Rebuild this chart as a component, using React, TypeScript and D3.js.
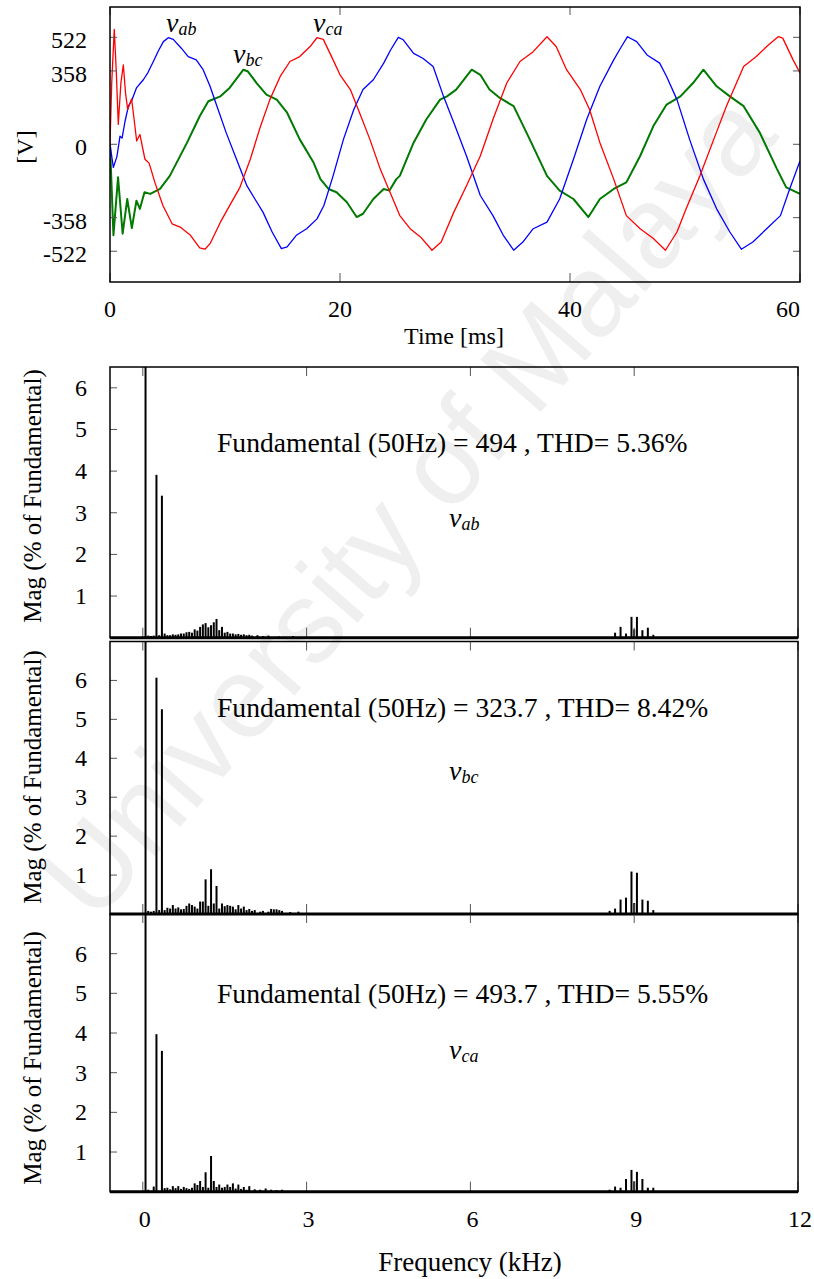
import React from 'react';
import * as d3 from 'd3';

// ---------- data ----------
const timeTicks = [0, 20, 40, 60];
const voltTicks = [522, 358, 0, -358, -522];
const freqTicks = [0, 3, 6, 9, 12];
const magTicks = [1, 2, 3, 4, 5, 6];

// [time ms, voltage V]
const vabWave: [number, number][] = [
  [0, 0], [0.29, -113], [0.6, -60], [0.87, 40], [1.05, 30], [1.3, 110], [1.6, 186], [1.88, 213], [2.3, 275],
  [2.9, 315], [3.3, 350], [3.77, 404], [4.2, 455], [4.64, 501], [5.07, 520], [5.5, 512], [6.2, 469], [6.8, 428],
  [7.5, 412], [8.1, 364], [8.7, 283], [9.3, 186], [10.1, 57], [11.0, -73], [11.9, -202], [12.6, -267], [13.3, -331],
  [14.1, -428], [14.9, -509], [15.4, -501], [16.2, -444], [17.1, -412], [18.0, -364], [18.6, -299], [19.4, -154],
  [20.3, 24], [21.2, 170], [22.0, 267], [22.9, 315], [23.8, 396], [24.4, 460], [25.07, 522], [25.5, 510],
  [26.4, 444], [27.2, 420], [28.1, 380], [29.0, 234], [29.9, 105], [31.0, -57], [32.2, -250], [33.3, -348],
  [34.2, -444], [35.1, -517], [35.9, -477], [36.8, -412], [38.0, -380], [39.1, -267], [40.3, -73], [41.45, 121],
  [42.6, 283], [43.8, 412], [44.4, 470], [45.0, 525], [45.8, 501], [46.7, 436], [47.8, 396], [48.4, 331],
  [49.3, 218], [50.4, 24], [51.6, -170], [52.75, -315], [53.9, -428], [54.9, -512], [55.9, -477], [57.1, -412],
  [58.3, -348], [59.1, -218], [60, -81],
];

const vbcWave: [number, number][] = [
  [0, 0], [0.3, -444], [0.7, -161], [1.1, -436], [1.5, -267], [1.9, -409], [2.3, -275], [2.6, -315], [3.0, -234],
  [3.5, -242], [4.35, -218], [5.2, -154], [6.7, 8], [7.8, 137], [8.55, 210], [9.6, 234], [10.4, 275], [11.6, 364],
  [12.0, 355], [12.75, 299], [13.6, 242], [14.5, 218], [15.4, 154], [16.5, 24], [17.7, -89], [18.3, -170],
  [19.0, -218], [19.7, -234], [20.6, -283], [21.45, -355], [22.0, -339], [22.9, -267], [23.8, -218], [24.3, -226],
  [24.9, -170], [25.2, -154], [26.4, 8], [27.5, 121], [28.7, 218], [29.3, 234], [30.1, 267], [31.45, 364],
  [32.2, 339], [33.0, 267], [33.9, 226], [35.1, 186], [36.5, 24], [38.0, -154], [39.1, -226], [40.3, -267],
  [41.6, -355], [42.6, -267], [43.8, -218], [44.9, -186], [46.1, -57], [47.25, 89], [48.4, 194], [49.6, 234],
  [50.7, 299], [51.6, 364], [52.75, 283], [53.9, 234], [55.1, 186], [56.5, 57], [58.0, -121], [58.8, -210],
  [60, -242],
];

const vcaWave: [number, number][] = [
  [0, 0], [0.15, 300], [0.37, 561], [0.55, 350], [0.72, 97], [0.95, 300], [1.16, 388], [1.35, 250], [1.54, 170],
  [1.88, 221], [2.1, 120], [2.32, 16], [2.6, 48], [3.04, -73], [3.4, -92], [3.9, -186], [4.6, -299], [5.4, -388],
  [6.1, -404], [7.0, -444], [7.8, -506], [8.26, -512], [8.7, -485], [9.6, -380], [10.4, -299], [11.3, -210],
  [12.2, -73], [13.0, 73], [13.9, 218], [14.8, 331], [15.65, 404], [16.5, 428], [17.4, 477], [18.0, 520],
  [18.55, 512], [19.4, 412], [20.0, 339], [20.9, 267], [21.7, 154], [22.6, 24], [23.5, -121], [24.35, -234],
  [25.2, -348], [26.1, -412], [27.0, -452], [28.0, -517], [28.8, -477], [29.9, -331], [31.0, -202], [32.2, -57],
  [33.3, 121], [34.5, 299], [35.65, 404], [36.8, 452], [38.0, 525], [38.8, 477], [39.7, 364], [40.9, 267],
  [41.7, 170], [42.6, 8], [43.8, -170], [44.9, -348], [46.1, -412], [47.25, -460], [48.3, -517], [49.3, -428],
  [50.1, -315], [51.3, -154], [52.5, 24], [53.6, 186], [55.1, 380], [56.2, 428], [57.1, 477], [58.1, 525],
  [58.5, 518], [59.4, 412], [60, 348],
];

// [harmonic order (x 50 Hz), magnitude % of fundamental]
const vabSpectrum: [number, number][] = [
  [1, 100], [2, 0.05], [3, 0.04], [4, 0.05], [5, 3.91], [6, 0.06], [7, 3.41], [8, 0.10], [9, 0.06], [10, 0.06],
  [11, 0.08], [12, 0.07], [13, 0.08], [14, 0.10], [15, 0.10], [16, 0.13], [17, 0.14], [18, 0.12], [19, 0.20],
  [20, 0.17], [21, 0.26], [22, 0.32], [23, 0.35], [24, 0.25], [25, 0.30], [26, 0.37], [27, 0.45], [28, 0.18],
  [29, 0.26], [30, 0.12], [31, 0.14], [32, 0.10], [33, 0.10], [34, 0.08], [35, 0.09], [36, 0.07], [37, 0.08],
  [38, 0.06], [39, 0.07], [40, 0.05], [42, 0.06], [44, 0.04], [46, 0.05], [50, 0.03], [55, 0.04],
  [173, 0.12], [175, 0.26], [177, 0.10], [179, 0.50], [180, 0.20], [181, 0.50], [183, 0.18], [185, 0.24], [187, 0.07],
];

const vbcSpectrum: [number, number][] = [
  [1, 100], [2, 0.08], [3, 0.06], [4, 0.08], [5, 6.07], [6, 0.10], [7, 5.26], [8, 0.10], [9, 0.16], [10, 0.14],
  [11, 0.23], [12, 0.14], [13, 0.17], [14, 0.12], [15, 0.13], [16, 0.21], [17, 0.27], [18, 0.23], [19, 0.19],
  [20, 0.14], [21, 0.32], [22, 0.32], [23, 0.89], [24, 0.21], [25, 1.15], [26, 0.27], [27, 0.72], [28, 0.14],
  [29, 0.27], [30, 0.20], [31, 0.23], [32, 0.21], [33, 0.19], [34, 0.12], [35, 0.23], [36, 0.14], [37, 0.19],
  [38, 0.10], [39, 0.13], [40, 0.08], [41, 0.10], [43, 0.06], [44, 0.08], [46, 0.06], [47, 0.13], [48, 0.12],
  [49, 0.12], [50, 0.10], [51, 0.08], [54, 0.05], [57, 0.06],
  [171, 0.08], [173, 0.14], [175, 0.37], [177, 0.42], [179, 1.09], [180, 0.28], [181, 1.06], [183, 0.37], [185, 0.34], [187, 0.10],
];

const vcaSpectrum: [number, number][] = [
  [1, 100], [2, 0.05], [4, 0.13], [5, 3.97], [7, 3.55], [8, 0.09], [9, 0.10], [10, 0.06], [11, 0.14], [12, 0.09],
  [13, 0.14], [14, 0.07], [15, 0.12], [16, 0.09], [17, 0.07], [18, 0.10], [19, 0.21], [20, 0.17], [21, 0.27],
  [22, 0.12], [23, 0.49], [24, 0.10], [25, 0.90], [26, 0.27], [27, 0.12], [28, 0.18], [29, 0.10], [30, 0.12],
  [31, 0.18], [32, 0.12], [33, 0.21], [34, 0.08], [35, 0.18], [36, 0.07], [37, 0.12], [38, 0.05], [39, 0.14],
  [41, 0.06], [43, 0.05], [45, 0.08], [47, 0.05], [49, 0.04], [51, 0.05],
  [171, 0.05], [173, 0.13], [175, 0.10], [177, 0.32], [179, 0.55], [180, 0.26], [181, 0.50], [183, 0.32], [185, 0.10], [187, 0.10],
];

const waveNames = ['ab', 'bc', 'ca'];
const fundamentals = ['494', '323.7', '493.7'];
const thdValues = ['5.36%', '8.42%', '5.55%'];
const magMax = [6.5, 7, 7];

// ---------- layout ----------
const W = 814;
const H = 1279;
const SERIF = "'Liberation Serif', 'Times New Roman', Times, 'DejaVu Serif', serif";
const serif = (size: number, extra: React.CSSProperties = {}): React.CSSProperties => ({
  fontFamily: SERIF,
  fontSize: size,
  ...extra,
});
const top = { left: 110, right: 800, top: 7, bottom: 282 };
const panels = [
  { top: 367, bottom: 637.7, titleY: 496, textY: 451.5, vY: 527 },
  { top: 641.5, bottom: 914, titleY: 777, textY: 717.3, vY: 780 },
  { top: 914, bottom: 1191.7, titleY: 1058, textY: 1003, vY: 1059 },
];
const pLeft = 110;
const pRight = 798;
const tickColor = '#555';

function Subscripted({ x, y, sub, size = 28, subSize = 18 }: { x: number; y: number; sub: string; size?: number; subSize?: number }) {
  return (
    <text x={x} y={y} style={serif(size, { fontStyle: 'italic' })} fill="#000">
      v<tspan style={{ fontSize: subSize }} dy={3}>{sub}</tspan>
    </text>
  );
}

export default function App() {
  const tScale = d3.scaleLinear().domain([0, 60]).range([top.left, top.right]);
  const vScale = d3.scaleLinear().domain([-672, 670]).range([top.bottom, top.top]);
  const line = d3
    .line<[number, number]>()
    .x((d) => tScale(d[0]))
    .y((d) => vScale(d[1]));

  const fScale = d3.scaleLinear().domain([0, 12]).range([142.8, 798]);
  const spectra = [vabSpectrum, vbcSpectrum, vcaSpectrum];

  return (
    <svg width={W} height={H} style={{ position: 'absolute', left: 0, top: 0, background: '#fff' }}>
      <rect x={0} y={0} width={W} height={H} fill="#fff" />
      {/* watermark */}
      <text
        x={407}
        y={505}
        transform="rotate(-49 407 505)"
        textAnchor="middle"
        dominantBaseline="central"
        style={{ fontFamily: "'Liberation Sans', Arial, sans-serif", fontSize: 116 }}
        fill="#efefef"
      >
        University of Malaya
      </text>

      {/* ---------- top time-domain plot ---------- */}
      <defs>
        <clipPath id="topClip">
          <rect x={top.left} y={top.top} width={top.right - top.left} height={top.bottom - top.top} />
        </clipPath>
      </defs>
      <g clipPath="url(#topClip)">
        <path d={line(vbcWave) || ''} fill="none" stroke="#007a00" strokeWidth={2} strokeLinejoin="round" />
        <path d={line(vabWave) || ''} fill="none" stroke="#0000ff" strokeWidth={1.3} strokeLinejoin="round" />
        <path d={line(vcaWave) || ''} fill="none" stroke="#ff0000" strokeWidth={1.3} strokeLinejoin="round" />
      </g>
      {voltTicks.map((v) => (
        <g key={'vt' + v}>
          <line x1={top.left} x2={top.left + 7} y1={vScale(v)} y2={vScale(v)} stroke={tickColor} />
          <line x1={top.right - 7} x2={top.right} y1={vScale(v)} y2={vScale(v)} stroke={tickColor} />
          <text x={87} y={vScale(v) + 3} textAnchor="end" dominantBaseline="central" style={serif(24)}>
            {v}
          </text>
        </g>
      ))}
      {timeTicks.map((t, i) => (
        <g key={'tt' + t}>
          <line x1={tScale(t)} x2={tScale(t)} y1={top.bottom} y2={top.bottom - 9} stroke={tickColor} />
          <line x1={tScale(t)} x2={tScale(t)} y1={top.top} y2={top.top + 8} stroke={tickColor} />
          <text
            x={tScale(t)}
            y={317}
            textAnchor={i === timeTicks.length - 1 ? 'end' : 'middle'}
            style={serif(24)}
          >
            {t}
          </text>
        </g>
      ))}
      <rect x={top.left} y={top.top} width={top.right - top.left} height={top.bottom - top.top} fill="none" stroke="#000" strokeWidth={1.5} />
      <text x={454} y={344} textAnchor="middle" style={serif(24)}>
        Time [ms]
      </text>
      <text x={25} y={147} transform="rotate(-90 25 147)" textAnchor="middle" dominantBaseline="central" style={serif(24)}>
        [V]
      </text>
      <Subscripted x={166} y={32} sub="ab" />
      <Subscripted x={233} y={63} sub="bc" />
      <Subscripted x={313} y={32} sub="ca" />

      {/* ---------- spectrum panels ---------- */}
      {panels.map((p, i) => {
        const yScale = d3.scaleLinear().domain([0, magMax[i]]).range([p.bottom, p.top]);
        return (
          <g key={'panel' + i}>
            {spectra[i].map(([n, m]) => {
              const x = fScale(n * 0.05);
              const yTop = yScale(Math.min(m, magMax[i]));
              return <rect key={n} x={x - 1} y={yTop} width={2} height={p.bottom - yTop} fill="#000" />;
            })}
            {magTicks.map((m) => (
              <g key={'m' + m}>
                <line x1={pLeft} x2={pLeft + 7} y1={yScale(m)} y2={yScale(m)} stroke={tickColor} />
                <text x={87} y={yScale(m)} textAnchor="end" dominantBaseline="central" style={serif(24)}>
                  {m}
                </text>
              </g>
            ))}
            {freqTicks.map((f) => (
              <g key={'f' + f}>
                <line x1={fScale(f)} x2={fScale(f)} y1={p.bottom} y2={p.bottom - 10} stroke={tickColor} />
                <line x1={fScale(f)} x2={fScale(f)} y1={p.top} y2={p.top + 9} stroke={tickColor} />
              </g>
            ))}
            <rect x={pLeft} y={p.top} width={pRight - pLeft} height={p.bottom - p.top} fill="none" stroke="#000" strokeWidth={1.5} />
            <line x1={pLeft} x2={pRight} y1={p.bottom} y2={p.bottom} stroke="#000" strokeWidth={3} />
            <text x={32} y={p.titleY} transform={`rotate(-90 32 ${p.titleY})`} textAnchor="middle" dominantBaseline="central" style={serif(25)}>
              Mag (% of Fundamental)
            </text>
            <text x={217} y={p.textY} style={serif(27.6)}>
              {`Fundamental (50Hz) = ${fundamentals[i]} , THD= ${thdValues[i]}`}
            </text>
            <Subscripted x={449} y={p.vY} sub={waveNames[i]} />
          </g>
        );
      })}
      {freqTicks.map((f) => (
        <text key={'fl' + f} x={fScale(f) + 2} y={1227} textAnchor="middle" style={serif(24)}>
          {f}
        </text>
      ))}
      <text x={470} y={1271} textAnchor="middle" style={serif(27)}>
        Frequency (kHz)
      </text>
    </svg>
  );
}
